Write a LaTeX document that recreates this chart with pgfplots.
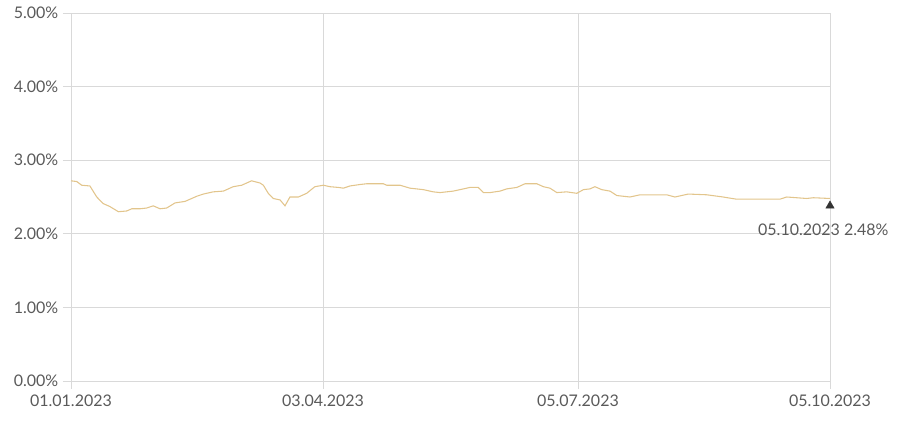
\documentclass[border=0pt]{standalone}
\usepackage{fontspec}
\setmainfont{Lato}
\usepackage{pgfplots}
\pgfplotsset{compat=1.18}
\definecolor{linegold}{HTML}{E2C58C}
\definecolor{gridgray}{HTML}{D9D9D9}
\definecolor{txtgray}{HTML}{5A5A5A}
\begin{document}
\begin{tikzpicture}[x=1pt,y=1pt]
\begin{axis}[
  at={(0,0)}, anchor=south west,
  scale only axis,
  width=569.25pt, height=276pt,
  xmin=0, xmax=277, ymin=0, ymax=5,
  xtick={0,92,185,277},
  xticklabels={01.01.2023,03.04.2023,05.07.2023,05.10.2023},
  ytick={0,1,2,3,4,5},
  yticklabels={0.00\%,1.00\%,2.00\%,3.00\%,4.00\%,5.00\%},
  grid=major,
  major grid style={gridgray, line width=0.6pt},
  axis line style={gridgray, line width=0.6pt},
  tick style={gridgray, line width=0.6pt},
  tick align=outside,
  major tick length=6pt,
  axis x line*=bottom, axis y line*=left,
  ticklabel style={font=\fontsize{12}{14}\selectfont, text=txtgray},
  xticklabel style={yshift=-1pt},
  yticklabel style={xshift=0pt},
  clip=false,
]
\addplot[linegold, line width=0.8pt] coordinates {
(0,2.72) (2.1,2.71) (3.9,2.66) (6.9,2.65) (9.4,2.50) (11.8,2.41) (14.2,2.37)
(17.3,2.30) (20.3,2.31) (22.2,2.34) (25.2,2.34) (27.6,2.35) (30.0,2.38)
(32.5,2.34) (34.9,2.35) (38.0,2.42) (41.6,2.44) (45.9,2.51) (48.3,2.54)
(51.9,2.57) (55.6,2.58) (59.2,2.64) (62.3,2.66) (65.9,2.72) (69.0,2.69)
(70.2,2.66) (72.0,2.55) (73.8,2.48) (76.3,2.46) (78.1,2.38) (79.9,2.50)
(83.0,2.50) (86.0,2.55) (89.0,2.64) (92.1,2.66) (94.5,2.64) (97.6,2.63)
(99.4,2.62) (101.8,2.65) (105.5,2.67) (107.9,2.68) (114.0,2.68) (115.2,2.66)
(120.1,2.66) (123.7,2.62) (128.6,2.60) (132.2,2.57) (134.7,2.56) (139.5,2.58)
(143.2,2.61) (145.6,2.63) (148.6,2.63) (150.5,2.56) (152.9,2.56) (156.6,2.58)
(159.0,2.61) (162.7,2.63) (165.7,2.68) (170.0,2.68) (172.4,2.64) (174.8,2.62)
(177.3,2.56) (180.9,2.57) (184.6,2.55) (187.0,2.60) (189.4,2.61) (191.2,2.64)
(193.7,2.60) (196.7,2.58) (199.2,2.52) (204.0,2.50) (207.7,2.53) (217.4,2.53)
(220.4,2.50) (225.3,2.54) (232.0,2.53) (238.0,2.50) (242.9,2.47) (258.7,2.47)
(261.2,2.50) (264.8,2.49) (268.5,2.48) (270.9,2.49) (277,2.48)
};
\addplot[only marks, mark=triangle*, mark size=3.6pt, color=black!80,
  nodes near coords={05.10.2023 2.48\%},
  every node near coord/.style={anchor=north, xshift=-5pt, yshift=-10pt,
    font=\fontsize{12}{14}\selectfont, text=txtgray}]
  coordinates {(277,2.38)};
\end{axis}
\pgfresetboundingbox
\path (-53.25pt,-32.25pt) rectangle (621.75pt,285.75pt);
\end{tikzpicture}
\end{document}
